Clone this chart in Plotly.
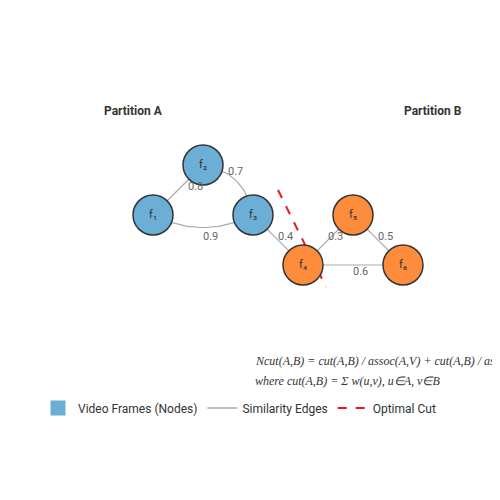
import numpy as np
import plotly.graph_objects as go

# node layout (graph units)
node_names = ["f₁", "f₂", "f₃", "f₄", "f₅", "f₆"]
node_x = [1, 2, 3, 4, 5, 6]
node_y = [0, 1, 0, -1, 0, -1]
node_part = ["A", "A", "A", "B", "B", "B"]

edge_src = [0, 1, 0, 2, 3, 4, 3]
edge_dst = [1, 2, 2, 3, 4, 5, 5]
edge_w = [0.8, 0.7, 0.9, 0.4, 0.3, 0.5, 0.6]
edge_bend = [0, 0.35, -0.25, 0, 0, 0, 0]
label_dx = [0.34, 0.14, 0.14, 0.14, 0.14, 0.14, 0.14]
label_dy = [0.08, 0.38, -0.42, 0.08, 0.08, 0.08, -0.12]

cut_x = [3.5, 4.46]
cut_y = [0.5, -1.44]

colors = {"A": "#6baed6", "B": "#fd8d3c"}

fig = go.Figure()

for s, d, w, b, lx, ly in zip(edge_src, edge_dst, edge_w, edge_bend, label_dx, label_dy):
    x0, y0, x1, y1 = node_x[s], node_y[s], node_x[d], node_y[d]
    mx, my = (x0 + x1) / 2, (y0 + y1) / 2
    cx, cy = mx - (y1 - y0) * b, my + (x1 - x0) * b
    t = np.linspace(0, 1, 30)
    xs = (1 - t) ** 2 * x0 + 2 * (1 - t) * t * cx + t ** 2 * x1
    ys = (1 - t) ** 2 * y0 + 2 * (1 - t) * t * cy + t ** 2 * y1
    fig.add_trace(go.Scatter(x=xs, y=ys, mode="lines", line=dict(color="#aaaaaa", width=1.2),
                             showlegend=False, hoverinfo="skip"))
    fig.add_annotation(x=mx + lx, y=my + ly, text=str(w), showarrow=False,
                       font=dict(size=11, color="#666666"))

fig.add_trace(go.Scatter(x=cut_x, y=cut_y, mode="lines",
                         line=dict(color="#e41a1c", width=2, dash="dash"), showlegend=False))

fig.add_trace(go.Scatter(
    x=node_x, y=node_y, mode="markers+text", text=node_names,
    textfont=dict(size=11, color="#333333"),
    marker=dict(size=40, color=[colors[p] for p in node_part],
                line=dict(color="#333333", width=1.5)),
    showlegend=False))

# legend entries
fig.add_trace(go.Scatter(x=[None], y=[None], mode="markers", name="Video Frames (Nodes)",
                         marker=dict(symbol="square", size=15, color="#6baed6")))
fig.add_trace(go.Scatter(x=[None], y=[None], mode="lines", name="Similarity Edges",
                         line=dict(color="#aaaaaa", width=1.5)))
fig.add_trace(go.Scatter(x=[None], y=[None], mode="lines", name="Optimal Cut",
                         line=dict(color="#e41a1c", width=2, dash="dash")))

fig.add_annotation(x=0.6, y=2.08, text="<b>Partition A</b>", showarrow=False,
                   font=dict(size=12, color="#333333"))
fig.add_annotation(x=6.6, y=2.08, text="<b>Partition B</b>", showarrow=False,
                   font=dict(size=12, color="#333333"))
fig.add_annotation(x=3.0, y=-2.92, xanchor="left", showarrow=False, align="left",
                   text="<i>Ncut(A,B) = cut(A,B) / assoc(A,V) + cut(A,B) / assoc(B,V)</i>",
                   font=dict(size=12, color="#333333", family="Liberation Serif"))
fig.add_annotation(x=3.0, y=-3.32, xanchor="left", showarrow=False, align="left",
                   text="<i>where cut(A,B) = Σ w(u,v), u∈A, v∈B</i>",
                   font=dict(size=12, color="#333333", family="Liberation Serif"))

fig.update_layout(
    width=500, height=500, margin=dict(l=0, r=0, t=0, b=0),
    plot_bgcolor="white", paper_bgcolor="white",
    font=dict(family="Roboto", color="#333333"),
    xaxis=dict(range=[-1.9, 8.1], visible=False, fixedrange=True),
    yaxis=dict(range=[-5.86, 4.14], visible=False, fixedrange=True),
    legend=dict(orientation="h", x=0.06, y=0.2, yanchor="middle", xanchor="left",
                itemwidth=30, font=dict(size=12, color="#333333")),
)

fig.write_html("out.html")
